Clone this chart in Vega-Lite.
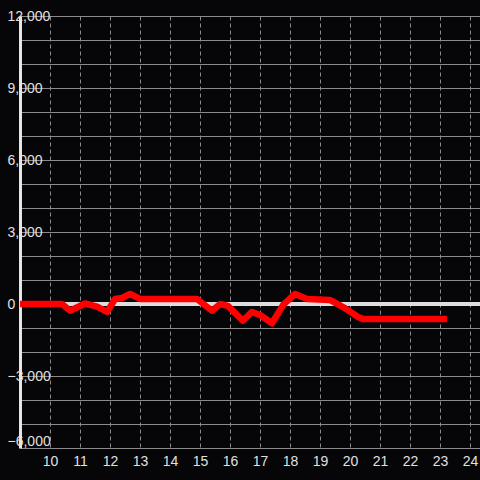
{
  "$schema": "https://vega.github.io/schema/vega-lite/v6.json",
  "width": 460,
  "height": 432,
  "autosize": "none",
  "padding": {"left": 20, "top": 16, "right": 0, "bottom": 32},
  "background": "#060508",
  "config": {
    "view": {"stroke": null},
    "axis": {"labelFont": "Liberation Sans", "labelFontSize": 14, "labelColor": "#e0e0e0"}
  },
  "data": {
    "values": [
      {"t": 9.0, "v": 0},
      {"t": 10.4, "v": 0},
      {"t": 10.67, "v": -280},
      {"t": 11.17, "v": 20},
      {"t": 11.57, "v": -110},
      {"t": 11.9, "v": -330},
      {"t": 12.17, "v": 210},
      {"t": 12.4, "v": 250},
      {"t": 12.67, "v": 420},
      {"t": 13.0, "v": 210},
      {"t": 14.9, "v": 210},
      {"t": 15.4, "v": -280},
      {"t": 15.67, "v": 0},
      {"t": 15.93, "v": -80},
      {"t": 16.43, "v": -700},
      {"t": 16.73, "v": -330},
      {"t": 17.0, "v": -460},
      {"t": 17.4, "v": -800},
      {"t": 17.77, "v": -40},
      {"t": 18.17, "v": 420},
      {"t": 18.57, "v": 210},
      {"t": 19.33, "v": 170},
      {"t": 19.83, "v": -170},
      {"t": 20.27, "v": -540},
      {"t": 20.43, "v": -620},
      {"t": 23.23, "v": -620}
    ]
  },
  "layer": [
    {
      "mark": {"type": "rule", "color": "#dddddd", "strokeWidth": 3},
      "encoding": {
        "y": {
          "datum": 0, "type": "quantitative",
          "scale": {"domain": [-6000, 12000], "nice": false},
          "axis": {
            "title": null,
            "values": [-6000, -5000, -4000, -3000, -2000, -1000, 0, 1000, 2000, 3000, 4000, 5000, 6000, 7000, 8000, 9000, 10000, 11000, 12000],
            "labelExpr": "datum.value % 3000 == 0 ? datum.label : ''",
            "domain": true, "domainColor": "#e6e6e6", "domainWidth": 3,
            "ticks": false, "tickSize": 0,
            "labelPadding": 13,
            "labelAlign": "left",
            "labelBaseline": {"condition": {"test": "datum.value == -6000", "value": "bottom"}, "value": "middle"},
            "grid": true, "gridColor": "#8a8a8a", "gridWidth": 1,
            "labelFlush": false, "labelOverlap": false
          }
        }
      }
    },
    {
      "mark": {"type": "line", "color": "#ff0000", "strokeWidth": 6.5, "strokeJoin": "round", "clip": true},
      "encoding": {
        "x": {
          "field": "t", "type": "quantitative",
          "scale": {"domain": [9, 24.333], "nice": false, "zero": false},
          "axis": {
            "title": null,
            "values": [10, 11, 12, 13, 14, 15, 16, 17, 18, 19, 20, 21, 22, 23, 24],
            "domain": false, "ticks": false, "tickSize": 0,
            "labelPadding": 6,
            "grid": true, "gridColor": "#8a8a8a", "gridDash": [4, 3], "gridWidth": 1,
            "labelFlush": false, "labelOverlap": false
          }
        },
        "y": {
          "field": "v", "type": "quantitative",
          "scale": {"domain": [-6000, 12000], "nice": false},
          "axis": {
            "title": null,
            "values": [-6000, -5000, -4000, -3000, -2000, -1000, 0, 1000, 2000, 3000, 4000, 5000, 6000, 7000, 8000, 9000, 10000, 11000, 12000],
            "labelExpr": "datum.value % 3000 == 0 ? datum.label : ''",
            "domain": true, "domainColor": "#e6e6e6", "domainWidth": 3,
            "ticks": false, "tickSize": 0,
            "labelPadding": 13,
            "labelAlign": "left",
            "labelBaseline": {"condition": {"test": "datum.value == -6000", "value": "bottom"}, "value": "middle"},
            "grid": true, "gridColor": "#8a8a8a", "gridWidth": 1,
            "labelFlush": false, "labelOverlap": false
          }
        }
      }
    }
  ]
}
